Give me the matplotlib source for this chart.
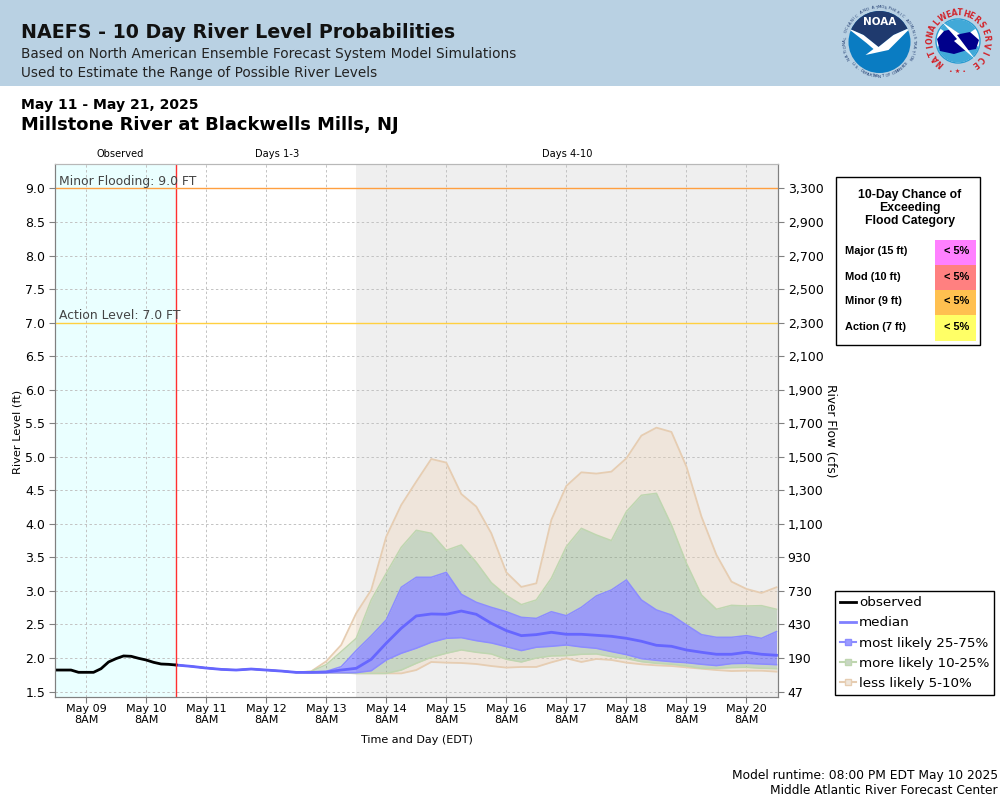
import numpy as np
import pandas as pd
import matplotlib
matplotlib.use("Agg")
import matplotlib.pyplot as plt
from matplotlib.lines import Line2D
from matplotlib.patches import Circle, Polygon, Rectangle, Wedge

# ----- Data -----
obs_times = pd.date_range("2025-05-08 20:00", "2025-05-10 20:00", freq="3h")
observed = [1.82, 1.82, 1.82, 1.786, 1.786, 1.786, 1.84, 1.94, 1.99, 2.03, 2.025,
            1.995, 1.97, 1.935, 1.91, 1.905, 1.895]

fc_times = pd.date_range("2025-05-10 20:00", "2025-05-20 20:00", freq="6h")
median = [1.895, 1.875, 1.85, 1.83, 1.82, 1.835, 1.82, 1.805, 1.785, 1.785, 1.79, 1.82,
          1.846, 1.98, 2.22, 2.443, 2.626, 2.656, 2.651, 2.70, 2.651, 2.517, 2.408,
          2.333, 2.348, 2.383, 2.353, 2.353, 2.338, 2.323, 2.293, 2.249, 2.189, 2.174,
          2.119, 2.085, 2.055, 2.055, 2.085, 2.055, 2.04]
p75 = [1.895, 1.875, 1.85, 1.83, 1.82, 1.835, 1.82, 1.805, 1.785, 1.79, 1.80, 1.87,
       2.11, 2.33, 2.567, 3.054, 3.203, 3.203, 3.277, 2.95, 2.83, 2.755, 2.69,
       2.606, 2.59, 2.69, 2.63, 2.755, 2.925, 3.014, 3.163, 2.865, 2.716, 2.641,
       2.492, 2.348, 2.308, 2.308, 2.333, 2.293, 2.393]
p25 = [1.895, 1.875, 1.85, 1.83, 1.82, 1.835, 1.82, 1.805, 1.785, 1.78, 1.78, 1.78,
       1.78, 1.81, 1.97, 2.07, 2.145, 2.234, 2.293, 2.303, 2.258, 2.224, 2.169,
       2.11, 2.16, 2.174, 2.194, 2.164, 2.144, 2.095, 2.05, 1.99, 1.965, 1.945,
       1.93, 1.906, 1.886, 1.916, 1.92, 1.91, 1.90]
p90 = [1.895, 1.875, 1.85, 1.83, 1.82, 1.835, 1.82, 1.805, 1.785, 1.80, 1.90, 2.095,
       2.293, 2.865, 3.263, 3.65, 3.904, 3.859, 3.605, 3.685, 3.426, 3.123, 2.934,
       2.795, 2.865, 3.188, 3.66, 3.933, 3.834, 3.75, 4.182, 4.426, 4.455, 3.983,
       3.412, 2.94, 2.726, 2.785, 2.775, 2.78, 2.726]
p10 = [1.895, 1.875, 1.85, 1.83, 1.82, 1.835, 1.82, 1.805, 1.785, 1.78, 1.78, 1.78,
       1.77, 1.77, 1.77, 1.82, 1.92, 2.01, 2.07, 2.12, 2.085, 2.06, 1.98, 1.94,
       2.0, 2.03, 2.035, 2.055, 2.06, 2.02, 1.99, 1.945, 1.92, 1.906,
       1.88, 1.846, 1.846, 1.856, 1.86, 1.846, 1.84]
p95 = [1.895, 1.875, 1.85, 1.83, 1.82, 1.835, 1.82, 1.805, 1.785, 1.80, 1.95, 2.194,
       2.666, 3.014, 3.809, 4.281, 4.629, 4.967, 4.913, 4.445, 4.257, 3.859, 3.277,
       3.059, 3.113, 4.058, 4.565, 4.768, 4.749, 4.778, 4.977, 5.315, 5.434, 5.37,
       4.853, 4.108, 3.536, 3.138, 3.029, 2.969, 3.054]
p05 = [1.895, 1.875, 1.85, 1.83, 1.82, 1.835, 1.82, 1.805, 1.785, 1.78, 1.78, 1.78,
       1.77, 1.77, 1.77, 1.77, 1.82, 1.94, 1.93, 1.925, 1.91, 1.88, 1.856,
       1.866, 1.866, 1.935, 1.995, 1.94, 1.985, 1.97, 1.93, 1.906, 1.89, 1.88,
       1.86, 1.84, 1.82, 1.805, 1.81, 1.81, 1.796]

level_ticks = [1.5, 2.0, 2.5, 3.0, 3.5, 4.0, 4.5, 5.0, 5.5, 6.0, 6.5, 7.0, 7.5, 8.0, 8.5, 9.0]
flow_labels = ["47", "190", "430", "730", "930", "1,100", "1,300", "1,500", "1,700",
               "1,900", "2,100", "2,300", "2,500", "2,700", "2,900", "3,300"]
day_ticks = pd.date_range("2025-05-09 08:00", "2025-05-20 08:00", freq="D")

categories = ["Major (15 ft)", "Mod (10 ft)", "Minor (9 ft)", "Action (7 ft)"]
chances = ["< 5%", "< 5%", "< 5%", "< 5%"]
cat_colors = ["#FF80FF", "#FF8080", "#FFC050", "#FFFF66"]

plt.rcParams["font.family"] = "DejaVu Sans"
GRID = "#C2C2C2"
BLUE = "#4949FF"
GREEN = "#6D9B60"
TAN = "#EFD1AF"

fig = plt.figure(figsize=(10, 8), dpi=100)

# ----- Page layer, pixel coordinates -----
page = fig.add_axes([0, 0, 1, 1])
page.set_xlim(0, 1000)
page.set_ylim(800, 0)
page.axis("off")

page.add_patch(Rectangle((0, 0), 1000, 85.5, color="#B9D1E3", lw=0))
page.text(21, 33, "NAEFS - 10 Day River Level Probabilities", fontsize=13.7,
          fontweight="bold", color="#111111", va="center")
page.text(21, 54, "Based on North American Ensemble Forecast System Model Simulations",
          fontsize=9.8, color="#222222", va="center")
page.text(21, 73, "Used to Estimate the Range of Possible River Levels",
          fontsize=9.8, color="#222222", va="center")
page.text(21, 105, "May 11 - May 21, 2025", fontsize=10.1, fontweight="bold", va="center")
page.text(21, 125, "Millstone River at Blackwells Mills, NJ", fontsize=12.9,
          fontweight="bold", va="center")
page.text(120, 154, "Observed", fontsize=7.1, ha="center", va="center")
page.text(277, 154, "Days 1-3", fontsize=7.1, ha="center", va="center")
page.text(567, 154, "Days 4-10", fontsize=7.1, ha="center", va="center")
page.text(17.5, 432, "River Level (ft)", fontsize=8.2, rotation=90, ha="center", va="center")
page.text(831, 431, "River Flow (cfs)", fontsize=8.7, rotation=-90, ha="center", va="center")
page.text(417, 740, "Time and Day (EDT)", fontsize=8, ha="center", va="center")
page.text(998, 775, "Model runtime: 08:00 PM EDT May 10 2025", fontsize=8.8, ha="right", va="center")
page.text(998, 791, "Middle Atlantic River Forecast Center", fontsize=8.8, ha="right", va="center")


def ring_text(cx, cy, r, text, start, end, flip=False, **kw):
    # one rotated text per letter, angles in degrees clockwise from north
    for ang, ch in zip(np.linspace(start, end, len(text)), text):
        a = np.radians(ang)
        rot = -ang + 180 if flip else -ang
        page.text(cx + r * np.sin(a), cy - r * np.cos(a), ch, rotation=rot,
                  ha="center", va="center", **kw)


def shifted(cx, cy, pts):
    return [(cx + x, cy + y) for x, y in pts]


# NOAA logo
cx, cy = 879.5, 42
disc = Circle((cx, cy), 31, color="#0A7CC2", lw=0)
page.add_patch(disc)
navy = Polygon(shifted(cx, cy, [(-32, -14), (-16, -7), (-1, 5), (14, -7), (32, -15), (32, -32), (-32, -32)]),
               color="#1F3A6E", lw=0)
page.add_patch(navy)
navy.set_clip_path(disc)
bird = Polygon(shifted(cx, cy, [(-32, -14), (-16, -7), (-1, 5), (14, -7), (32, -15), (19, -2), (9, 8),
                                (-14, 13), (-6, 7), (-13, 1)]), color="white", lw=0)
page.add_patch(bird)
bird.set_clip_path(disc)
page.text(cx, cy - 20, "NOAA", color="white", fontsize=7.5, fontweight="bold", ha="center", va="center")
ring_text(cx, cy, 34.5, "NATIONAL OCEANIC AND ATMOSPHERIC ADMINISTRATION", -118, 118,
          fontsize=2.9, color="#1F3A6E")
ring_text(cx, cy, 34.5, "U.S. DEPARTMENT OF COMMERCE", 232, 128, flip=True, fontsize=2.9, color="#1F3A6E")

# NWS logo
cx, cy = 958, 41
page.add_patch(Circle((cx, cy), 22, facecolor="white", edgecolor="#2A9BD0", lw=1))
page.add_patch(Wedge((cx, cy), 21.5, 15, 165, color="#41A9D8", lw=0))
page.add_patch(Wedge((cx, cy), 21.5, 215, 325, color="#41A9D8", lw=0))
page.add_patch(Polygon(shifted(cx, cy, [(-21, -2), (-14, -10), (-6, -12), (2, -7), (12, -9), (21, -1),
                                        (18, 8), (6, 10), (-4, 13), (-18, 10)]), color="#00008B", lw=0))
page.add_patch(Polygon(shifted(cx, cy, [(-16, -19), (2, -7), (-1, -6), (17, 18), (-4, 0), (-1, -2)]),
                       color="white", lw=0))
ring_text(cx, cy, 28, "NATIONAL", -140, -50, fontsize=5.6, fontweight="bold", color="#D2232A")
ring_text(cx, cy, 28, "WEATHER", -32, 40, fontsize=5.6, fontweight="bold", color="#D2232A")
ring_text(cx, cy, 28, "SERVICE", 55, 143, fontsize=5.6, fontweight="bold", color="#D2232A")
page.text(cx, cy + 30, "• ★ •", fontsize=4.5, color="#D2232A", ha="center", va="center")

# Flood category table
page.add_patch(Rectangle((836, 176.5), 144, 168.5, facecolor="white", edgecolor="black", lw=1))
for i, line in enumerate(["10-Day Chance of", "Exceeding", "Flood Category"]):
    page.text(910, 195 + 13 * i, line, family="Liberation Sans", fontweight="bold", fontsize=8.8,
              ha="center", va="center")
for i, (cat, pct, col) in enumerate(zip(categories, chances, cat_colors)):
    page.add_patch(Rectangle((935, 240 + 25 * i), 41, 25 + (i == 3), color=col, lw=0))
    page.text(845, 251.5 + 25 * i, cat, family="Liberation Sans", fontweight="bold", fontsize=7.9,
              va="center")
    page.text(957, 251.5 + 25 * i, pct, family="Liberation Sans", fontweight="bold", fontsize=7.9,
              ha="center", va="center")

# ----- Main plot -----
ax = fig.add_axes([55 / 1000, 1 - 697 / 800, 723 / 1000, 533 / 800])
left = pd.Timestamp("2025-05-08 19:36")
right = pd.Timestamp("2025-05-20 20:36")
now = pd.Timestamp("2025-05-10 20:00")
day4 = pd.Timestamp("2025-05-13 20:00")

ax.axvspan(left, now, color="#EAFFFF", lw=0, zorder=0)
ax.axvspan(day4, right, color="#EFEFEF", lw=0, zorder=0)
ax.grid(True, color=GRID, linestyle=(0, (2.5, 2.5)), linewidth=0.7, zorder=1)
ax.set_axisbelow(True)

ax.fill_between(fc_times, p90, p95, color=TAN, alpha=0.3, lw=0, zorder=2)
ax.fill_between(fc_times, p05, p10, color=TAN, alpha=0.3, lw=0, zorder=2)
ax.fill_between(fc_times, p75, p90, color=GREEN, alpha=0.3, lw=0, zorder=2)
ax.fill_between(fc_times, p10, p25, color=GREEN, alpha=0.3, lw=0, zorder=2)
ax.fill_between(fc_times, p25, p75, color=BLUE, alpha=0.5, lw=0, zorder=2)
ax.plot(fc_times, p95, color="#E6CDB2", lw=1.3, zorder=3)
ax.plot(fc_times, p05, color="#E6CDB2", lw=1.3, zorder=3)
ax.plot(fc_times, p90, color="#BFD6B0", lw=1.1, zorder=3)
ax.plot(fc_times, p10, color="#BFD6B0", lw=1.1, zorder=3)
ax.plot(fc_times, p75, color="#8C8CFF", lw=1.1, zorder=3)
ax.plot(fc_times, p25, color="#8C8CFF", lw=1.1, zorder=3)
ax.plot(fc_times, median, color="#6666FF", lw=2.0, zorder=4)
ax.plot(obs_times, observed, color="black", lw=2.0, zorder=5)

ax.axvline(now, color="#FF3030", lw=1, zorder=6, snap=True)
ax.axhline(9.0, color="#FF9F40", lw=1, zorder=6, snap=True)
ax.axhline(7.0, color="#FFD040", lw=1, zorder=6, snap=True)
ax.text(pd.Timestamp("2025-05-08 21:00"), 9.10, "Minor Flooding: 9.0 FT", fontsize=8.9, color="#444444", va="center", zorder=7)
ax.text(pd.Timestamp("2025-05-08 21:00"), 7.11, "Action Level: 7.0 FT", fontsize=8.9, color="#444444", va="center", zorder=7)

ax.set_xlim(left, right)
ax.set_ylim(1.418, 9.365)
ax.set_yticks(level_ticks)
ax.set_yticklabels([f"{v:.1f}" for v in level_ticks])
ax.set_xticks(day_ticks)
ax.set_xticklabels([d.strftime("%b %d") + "\n8AM" for d in day_ticks], linespacing=1.1)
ax.tick_params(axis="x", labelsize=8, color="#808080", length=4, pad=1)
ax.tick_params(axis="y", labelsize=9, color="#808080", length=4, pad=3)

ax2 = ax.twinx()
ax2.set_ylim(ax.get_ylim())
ax2.set_yticks(level_ticks)
ax2.set_yticklabels(flow_labels)
ax2.tick_params(axis="y", labelsize=9, color="#808080", length=4, pad=3)
for a in (ax, ax2):
    for s in a.spines.values():
        s.set_color("#808080")
    a.spines["top"].set_color("#B8B8B8")

handles = [
    Line2D([], [], color="black", lw=2),
    Line2D([], [], color="#8080FF", lw=2),
    Line2D([], [], color="#8C8CFF", lw=1.5, marker="s", markersize=5, markerfacecolor="#9C9CFF"),
    Line2D([], [], color="#BFD6B0", lw=1.5, marker="s", markersize=5, markerfacecolor="#C8D6C4"),
    Line2D([], [], color="#E6CDB2", lw=1.5, marker="s", markersize=5, markerfacecolor="#EFE6DC"),
]
names = ["observed", "median", "most likely 25-75%", "more likely 10-25%", "less likely 5-10%"]
fig.legend(handles, names, loc="lower left", bbox_to_anchor=(835 / 1000, 1 - 695 / 800),
           fontsize=9.7, fancybox=False, framealpha=1, edgecolor="black",
           borderpad=0.38, labelspacing=0.53, handlelength=1.2, handletextpad=0.2, borderaxespad=0)

fig.savefig("out.png", dpi=100)
